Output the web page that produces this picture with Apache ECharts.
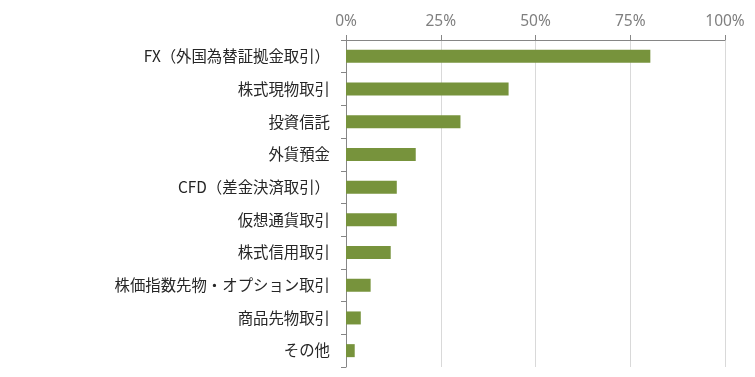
<!DOCTYPE html>
<html>
  <head>
    <meta charset="utf-8">
    <title>取引経験</title>
    <style>
      html, body { margin: 0; padding: 0; background: #fff; }
      #chart { width: 755px; height: 377px; }
    </style>
  </head>
  <body>
    <div id="chart"></div>
    <script src="https://cdn.jsdelivr.net/npm/echarts@6/dist/echarts.min.js"></script>
    <script>
      var categories = [
        'FX（外国為替証拠金取引）',
        '株式現物取引',
        '投資信託',
        '外貨預金',
        'CFD（差金決済取引）',
        '仮想通貨取引',
        '株式信用取引',
        '株価指数先物・オプション取引',
        '商品先物取引',
        'その他'
      ];
      var shares = [80.3, 42.9, 30.2, 18.4, 13.4, 13.4, 11.8, 6.5, 3.9, 2.3];
      var xTicks = [0, 25, 50, 75, 100];

      var chart = echarts.init(document.getElementById('chart'));
      chart.setOption({
        animation: false,
        grid: { left: 346, right: 30, top: 40, bottom: 10 },
        xAxis: {
          type: 'value',
          position: 'top',
          min: xTicks[0],
          max: xTicks[xTicks.length - 1],
          interval: 25,
          axisLine: { show: true, lineStyle: { color: '#868686', width: 1 } },
          axisTick: { show: true, length: 5, lineStyle: { color: '#868686' } },
          splitLine: { show: true, lineStyle: { color: '#d9d9d9', width: 1 } },
          axisLabel: {
            formatter: '{value}%',
            color: '#7f7f7f',
            fontSize: 15.5,
            fontFamily: 'Noto Sans',
            margin: 10
          }
        },
        yAxis: {
          type: 'category',
          inverse: true,
          data: categories,
          axisLine: { show: true, lineStyle: { color: '#868686', width: 1 } },
          axisTick: { show: true, length: 5, lineStyle: { color: '#868686' } },
          axisLabel: {
            color: '#262626',
            fontSize: 15.4,
            fontFamily: 'Noto Sans CJK JP',
            margin: 16
          }
        },
        series: [{
          type: 'bar',
          data: shares,
          barWidth: 13,
          itemStyle: { color: '#77933c' }
        }]
      });
    </script>
  </body>
</html>
